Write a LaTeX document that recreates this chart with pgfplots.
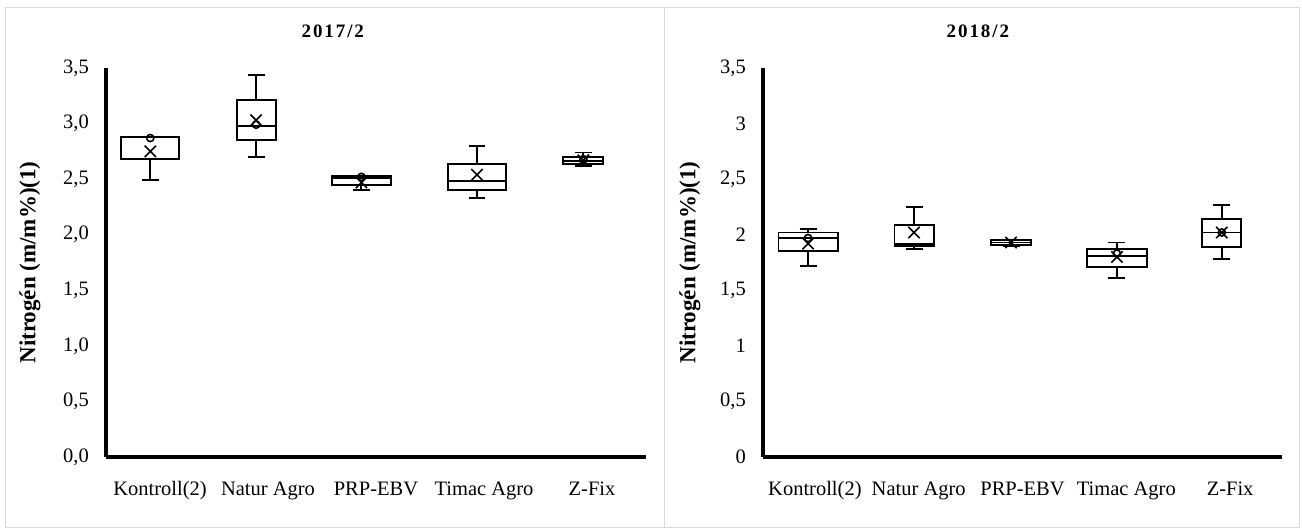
\documentclass[border=0pt]{standalone}
\usepackage{fontspec}
\setmainfont{Liberation Serif}
\usepackage{pgfplots}
\pgfplotsset{compat=1.18}
\usepgfplotslibrary{statistics}
\definecolor{panelgray}{HTML}{D9D9D9}

\pgfplotsset{
  npanel/.style={
    scale only axis,
    height=389bp,
    xmin=-0.5, xmax=4.5, ymin=0, ymax=3.5,
    axis lines=left,
    axis line style={line width=3.2bp, -},
    major tick length=0pt,
    tick style={draw=none},
    xtick={0,1,2,3,4},
    xticklabels={Kontroll(2),Natur Agro,PRP-EBV,Timac Agro,Z-Fix},
    ytick={0,0.5,1,1.5,2,2.5,3,3.5},
    tick label style={font=\fontsize{20.5bp}{24bp}\selectfont},
    /pgf/number format/assume math mode=true,
    xticklabel style={anchor=north, inner sep=0pt, text height=14bp, text depth=4bp, yshift=-24bp},
    yticklabel style={anchor=east, inner sep=0pt, xshift=-17bp},
    ylabel={Nitrogén (m/m\%)(1)},
    ylabel style={at={(axis description cs:-0.1407,0.5)}, anchor=center, font=\fontsize{23bp}{27bp}\selectfont\bfseries},
    title style={anchor=center, font=\fontsize{19bp}{22bp}\selectfont\bfseries\addfontfeatures{LetterSpace=10}},
    clip=false,
    boxplot/draw direction=y,
    boxplot/every box/.style={draw=black, line width=1.9bp, fill=white},
    boxplot/every whisker/.style={draw=black, line width=1.9bp},
    boxplot/every median/.style={draw=black, line width=1.9bp},
    boxplot/every average/.style={/tikz/mark=x, /tikz/mark size=8bp, /tikz/line width=1.8bp, /tikz/draw=black},
  },
  bx/.style={black, mark=o, mark size=3.6bp, line width=1.6bp, mark options={solid, fill=none, line width=1.6bp}},
}

\begin{document}
\begin{tikzpicture}
\useasboundingbox (0,0) rectangle (1302bp,-528bp);
\draw[panelgray, line width=1bp] (5bp,-7bp) rectangle (1299bp,-527bp);
\draw[panelgray, line width=1bp] (664bp,-7bp) -- (664bp,-527bp);

% ---------------- 2017/2 ----------------
\begin{axis}[npanel, width=540bp,
  at={(106bp,-457bp)}, anchor=south west,
  title={2017/2}, title style={at={(axis description cs:0.42,1.08)}},
  yticklabel style={/pgf/number format/.cd, use comma, fixed, fixed zerofill, precision=1},
  boxplot/whisker extend=0.157]
\addplot+[bx, boxplot prepared={draw position=-0.09, box extend=0.54,
  lower whisker=2.49, lower quartile=2.68, median=2.876, upper quartile=2.876, upper whisker=2.876, average=2.75}]
  table[row sep=\\, y index=0] {v\\ 2.87\\};
\addplot+[bx, boxplot prepared={draw position=0.89, box extend=0.36,
  lower whisker=2.70, lower quartile=2.85, median=2.98, upper quartile=3.21, upper whisker=3.44, average=3.03}]
  table[row sep=\\, y index=0] {v\\ 2.99\\};
\addplot+[bx, boxplot prepared={draw position=1.865, box extend=0.55,
  lower whisker=2.40, lower quartile=2.45, median=2.51, upper quartile=2.53, upper whisker=2.53, average=2.47}]
  table[row sep=\\, y index=0] {v\\ 2.52\\};
\addplot+[bx, boxplot prepared={draw position=2.935, box extend=0.54,
  lower whisker=2.33, lower quartile=2.40, median=2.48, upper quartile=2.64, upper whisker=2.80, average=2.54}]
  coordinates {};
\addplot+[bx, boxplot prepared={draw position=3.92, box extend=0.37,
  lower whisker=2.62, lower quartile=2.64, median=2.66, upper quartile=2.70, upper whisker=2.74, average=2.67}]
  table[row sep=\\, y index=0] {v\\ 2.68\\};
\end{axis}

% ---------------- 2018/2 ----------------
\begin{axis}[npanel, width=519bp,
  at={(763bp,-457bp)}, anchor=south west,
  title={2018/2}, title style={at={(axis description cs:0.414,1.08)}},
  yticklabel style={/pgf/number format/.cd, use comma, fixed, precision=1},
  boxplot/whisker extend=0.164]
\addplot+[bx, boxplot prepared={draw position=-0.066, box extend=0.57,
  lower whisker=1.72, lower quartile=1.85, median=1.97, upper quartile=2.02, upper whisker=2.05, average=1.92}]
  table[row sep=\\, y index=0] {v\\ 1.97\\};
\addplot+[bx, boxplot prepared={draw position=0.955, box extend=0.376,
  lower whisker=1.87, lower quartile=1.895, median=1.92, upper quartile=2.085, upper whisker=2.25, average=2.02}]
  coordinates {};
\addplot+[bx, boxplot prepared={draw position=1.89, box extend=0.385,
  lower whisker=1.90, lower quartile=1.905, median=1.93, upper quartile=1.95, upper whisker=1.955, average=1.93}]
  coordinates {};
\addplot+[bx, boxplot prepared={draw position=2.91, box extend=0.57,
  lower whisker=1.61, lower quartile=1.71, median=1.81, upper quartile=1.87, upper whisker=1.93, average=1.80}]
  table[row sep=\\, y index=0] {v\\ 1.83\\};
\addplot+[bx, boxplot prepared={draw position=3.92, box extend=0.376,
  lower whisker=1.78, lower quartile=1.89, median=2.02, upper quartile=2.14, upper whisker=2.27, average=2.02}]
  table[row sep=\\, y index=0] {v\\ 2.02\\};
\end{axis}
\end{tikzpicture}
\end{document}
